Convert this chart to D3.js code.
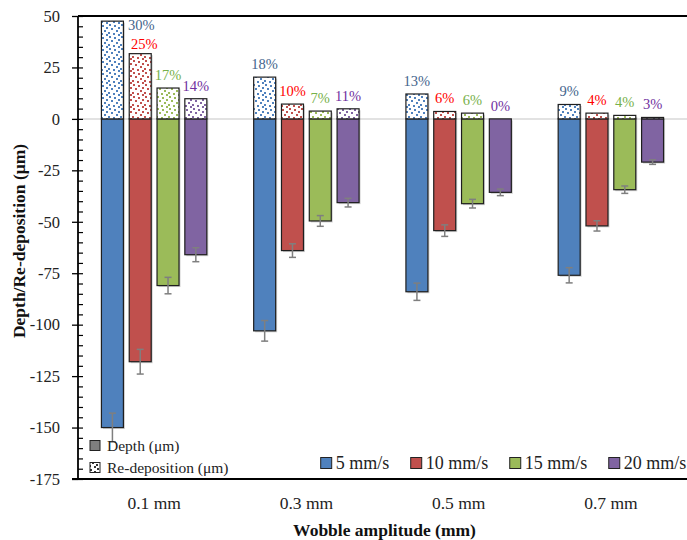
<!DOCTYPE html>
<html>
<head>
<meta charset="utf-8">
<script src="https://cdn.jsdelivr.net/npm/d3@7"></script>
<style>
  html, body { margin: 0; padding: 0; background: #fff; }
  svg { display: block; }
  svg text { font-family: "Liberation Serif", "Times New Roman", serif !important; }
</style>
</head>
<body>
<svg id="chart" width="687" height="540" font-family="Liberation Serif, serif"></svg>
<script>
// ---------------- data ----------------
const categories = ["0.1 mm", "0.3 mm", "0.5 mm", "0.7 mm"];
const series = ["5 mm/s", "10 mm/s", "15 mm/s", "20 mm/s"];

const depth5  = [-150, -103, -84, -76];
const depth10 = [-118, -64, -54.3, -52];
const depth15 = [-81, -49.6, -41.2, -34.4];
const depth20 = [-66, -40.7, -35.7, -21];

const err5  = [7, 5, 4.2, 3.7];
const err10 = [6, 3.3, 2.8, 2.5];
const err15 = [4, 2.6, 2.1, 1.8];
const err20 = [3.4, 2.1, 1.6, 1.1];

const redep5  = [47.5, 20.3, 12.1, 7.0];
const redep10 = [31.7, 7.2, 3.6, 2.8];
const redep15 = [15.0, 3.8, 2.8, 1.7];
const redep20 = [9.8, 4.9, 0, 0.7];

const pct5  = ["30%", "18%", "13%", "9%"];
const pct10 = ["25%", "10%", "6%", "4%"];
const pct15 = ["17%", "7%", "6%", "4%"];
const pct20 = ["14%", "11%", "0%", "3%"];

const yTicks = [50, 25, 0, -25, -50, -75, -100, -125, -150, -175];
const legendPatterns = ["Depth (\u03bcm)", "Re-deposition (\u03bcm)"];

// ---------------- styles ----------------
const fills = ["#4f81bd", "#c0504d", "#9bbb59", "#8064a2"];
const labelColors = ["#44648c", "#ff0000", "#77b14a", "#7030a0"];
const FONT = "Liberation Serif, serif";

const depthAll = [depth5, depth10, depth15, depth20];
const errAll = [err5, err10, err15, err20];
const redepAll = [redep5, redep10, redep15, redep20];
const pctAll = [pct5, pct10, pct15, pct20];

const svg = d3.select("#chart");
const L = 78, R = 687, T = 16, B = 479;

const y = d3.scaleLinear().domain([-175, 50]).range([B, T]);
const x0 = d3.scaleBand().domain(categories).range([L, R])
  .paddingInner(0.3077).paddingOuter(0.3077 / 2);
const x1 = d3.scaleBand().domain(series).range([0, x0.bandwidth()]).paddingInner(0.209);

// confetti-like dotted patterns
const defs = svg.append("defs");
const dots = [[1,0],[6,1],[10,3],[3,4],[8,6],[0,8],[5,9],[10,10]];
function makePattern(id, color) {
  const p = defs.append("pattern").attr("id", id).attr("patternUnits", "userSpaceOnUse")
    .attr("width", 12).attr("height", 12);
  p.append("rect").attr("width", 12).attr("height", 12).attr("fill", "#fff");
  dots.forEach(([dx, dy]) => p.append("rect").attr("x", dx).attr("y", dy)
    .attr("width", 2).attr("height", 2).attr("fill", color));
}
fills.forEach((c, i) => makePattern("pat" + i, c));
makePattern("patK", "#333");

// zero gridline
svg.append("line").attr("x1", L).attr("x2", R).attr("y1", y(0)).attr("y2", y(0))
  .attr("stroke", "#d9d9d9").attr("stroke-width", 1.5);

// bars
const g = svg.append("g");
series.forEach((s, si) => {
  categories.forEach((c, ci) => {
    const bx = x0(c) + x1(s);
    const bw = x1.bandwidth();
    const dv = depthAll[si][ci];
    const rv = redepAll[si][ci];
    g.append("rect").attr("x", bx + 1.5).attr("y", y(rv) + 1.5).attr("width", bw)
      .attr("height", y(dv) - y(rv)).attr("fill", "#000").attr("opacity", 0.18);
    g.append("rect").attr("x", bx).attr("y", y(0)).attr("width", bw)
      .attr("height", y(dv) - y(0)).attr("fill", fills[si])
      .attr("stroke", "#1f1f1f").attr("stroke-width", 1.2);
    g.append("rect").attr("x", bx).attr("y", y(rv)).attr("width", bw)
      .attr("height", y(0) - y(rv)).attr("fill", `url(#pat${si})`)
      .attr("stroke", "#1f1f1f").attr("stroke-width", 1.2);
  });
});

// error bars
series.forEach((s, si) => {
  categories.forEach((c, ci) => {
    const cx = x0(c) + x1(s) + x1.bandwidth() / 2;
    const dv = depthAll[si][ci], e = errAll[si][ci];
    const eg = svg.append("g").attr("stroke", "#7f7f7f").attr("stroke-width", 1.5);
    eg.append("line").attr("x1", cx).attr("x2", cx).attr("y1", y(dv + e)).attr("y2", y(dv - e));
    [dv + e, dv - e].forEach(v => eg.append("line").attr("x1", cx - 3.5).attr("x2", cx + 3.5)
      .attr("y1", y(v)).attr("y2", y(v)));
  });
});

// percentage labels
const nudge = { "0-0": { dx: 29, dy: 17 }, "1-0": { dx: 4, dy: 3 } };
series.forEach((s, si) => {
  categories.forEach((c, ci) => {
    const cx = x0(c) + x1(s) + x1.bandwidth() / 2;
    const n = nudge[si + "-" + ci] || { dx: 0, dy: 0 };
    svg.append("text").attr("x", cx + n.dx).attr("y", y(redepAll[si][ci]) - 8 + n.dy)
      .attr("text-anchor", "middle").attr("font-family", FONT).attr("font-size", 14.5)
      .attr("fill", labelColors[si]).text(pctAll[si][ci]);
  });
});

// axes
const yAxis = svg.append("g").attr("transform", `translate(${L},0)`)
  .call(d3.axisLeft(y).tickValues(yTicks).tickSize(6).tickPadding(12).tickFormat(d => String(d)));
yAxis.attr("font-family", FONT);
yAxis.select(".domain").remove();
yAxis.selectAll("line").attr("stroke", "#000").attr("stroke-width", 1.3);
yAxis.selectAll("text").attr("font-size", 16.5).attr("fill", "#222").attr("font-family", FONT);

const minor = svg.append("g").attr("transform", `translate(${L},0)`)
  .call(d3.axisRight(y).tickValues(d3.range(-175, 51, 5)).tickSize(5).tickFormat(""));
minor.select(".domain").remove();
minor.selectAll("line").attr("stroke", "#000").attr("stroke-width", 1.2);

svg.append("line").attr("x1", L).attr("x2", L).attr("y1", T).attr("y2", B)
  .attr("stroke", "#000").attr("stroke-width", 1.8);
svg.append("line").attr("x1", L).attr("x2", R).attr("y1", T).attr("y2", T)
  .attr("stroke", "#000").attr("stroke-width", 1.8);
svg.append("line").attr("x1", L - 6).attr("x2", R).attr("y1", B).attr("y2", B)
  .attr("stroke", "#000").attr("stroke-width", 1.8);

const xAxis = svg.append("g").attr("transform", `translate(0,${B})`)
  .call(d3.axisBottom(x0).tickSize(0).tickPadding(18));
xAxis.attr("font-family", FONT);
xAxis.select(".domain").remove();
xAxis.selectAll("text").attr("font-size", 17.5).attr("fill", "#222").attr("font-family", FONT);

// axis titles
svg.append("text").attr("x", (L + R) / 2 + 2).attr("y", 536).attr("text-anchor", "middle")
  .attr("font-family", FONT).attr("font-size", 17.5).attr("font-weight", "bold").attr("fill", "#111")
  .text("Wobble amplitude (mm)");
svg.append("text").attr("transform", "translate(25,241) rotate(-90)").attr("text-anchor", "middle")
  .attr("font-family", FONT).attr("font-size", 17.5).attr("font-weight", "bold").attr("fill", "#111")
  .text("Depth/Re-deposition (\u03bcm)");

// pattern legend
const pl = svg.append("g");
legendPatterns.forEach((t, i) => {
  const yy = 445.5 + i * 22;
  pl.append("rect").attr("x", 90).attr("y", yy - 5).attr("width", 10).attr("height", 10)
    .attr("fill", i === 0 ? "#7f7f7f" : "url(#patK)").attr("stroke", "#222").attr("stroke-width", 1);
  pl.append("text").attr("x", 107).attr("y", yy).attr("dy", "0.35em")
    .attr("font-family", FONT).attr("font-size", 15.5).attr("fill", "#222").text(t);
});

// series legend
const sl = svg.append("g");
let lx = 320.7;
series.forEach((s, i) => {
  sl.append("rect").attr("x", lx).attr("y", 457.5).attr("width", 11).attr("height", 11)
    .attr("fill", fills[i]).attr("stroke", "#222").attr("stroke-width", 1);
  const t = sl.append("text").attr("x", lx + 15).attr("y", 463).attr("dy", "0.35em")
    .attr("font-family", FONT).attr("font-size", 18).attr("fill", "#222").text(s);
  lx = lx + 15 + t.node().getComputedTextLength() + 21.5;
});
</script>
</body>
</html>
